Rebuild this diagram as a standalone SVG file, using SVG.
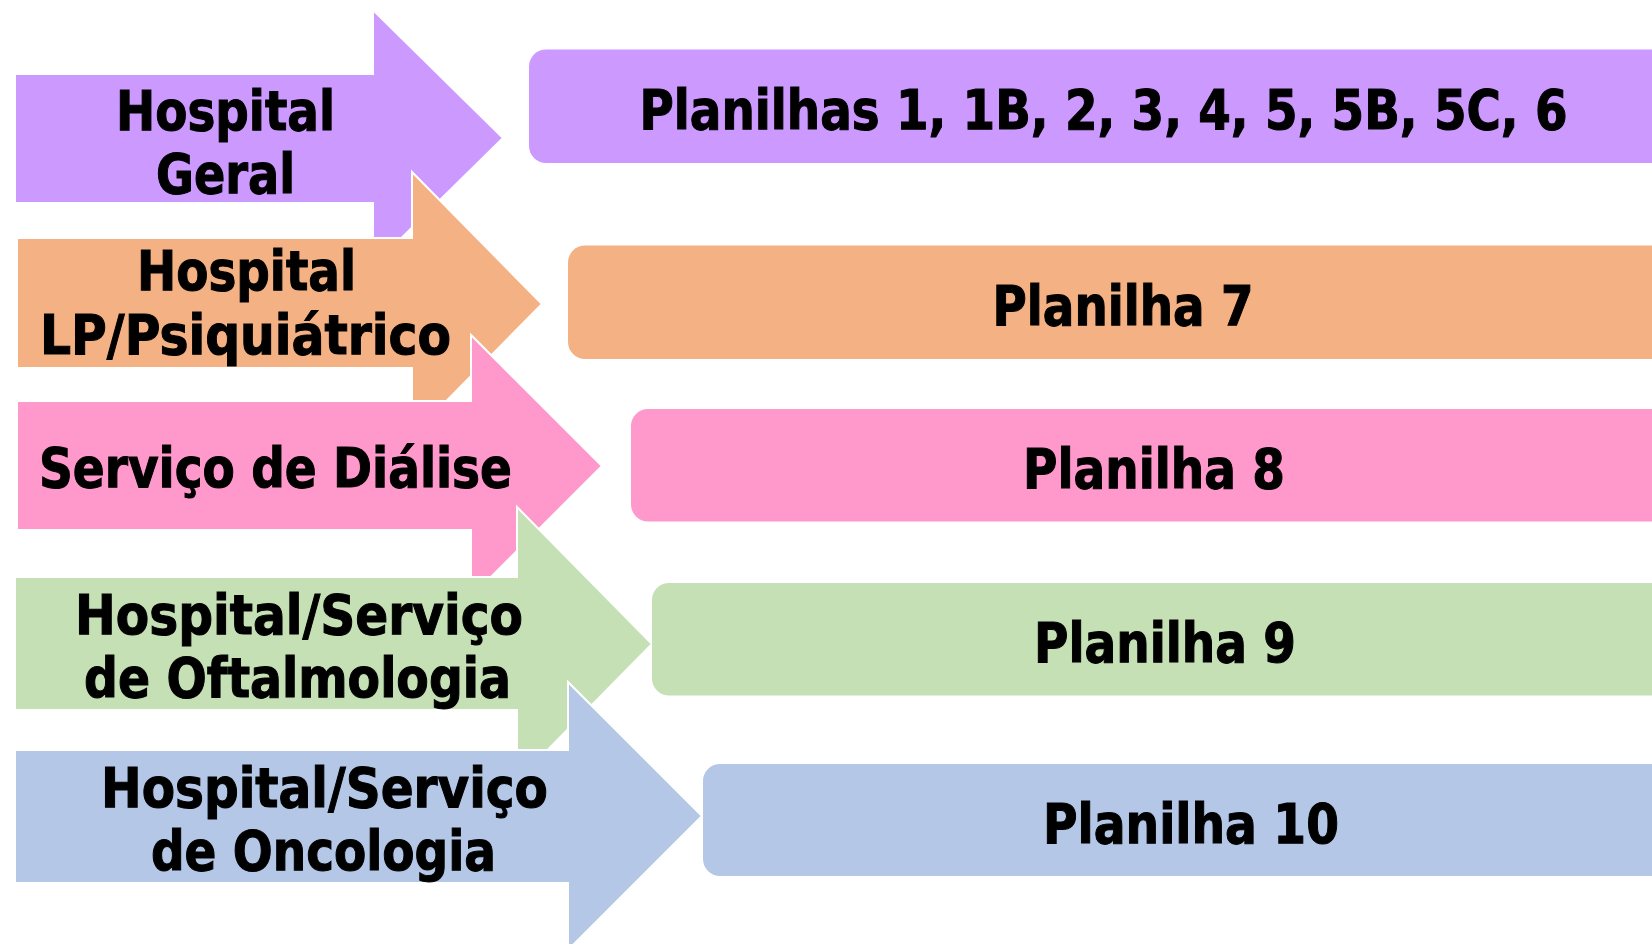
<svg xmlns="http://www.w3.org/2000/svg" width="1652" height="944" viewBox="0 0 1652 944">
<style>
.t{font-family:"DejaVu Sans Condensed","DejaVu Sans","Liberation Sans",sans-serif;font-weight:bold;font-size:55px;fill:#000;stroke:#000;stroke-width:1;text-anchor:middle}
.arr{stroke:#fff;stroke-width:2;stroke-linejoin:miter}
</style>
<rect width="1652" height="944" fill="#fff"/>
<g id="node-purple">
<polygon class="arr" fill="#CC99FF" points="15,74 373,74 373,10 503,138 373,266 373,203 15,203"/>
<text class="t" x="225.5" y="129.5" textLength="219" lengthAdjust="spacingAndGlyphs">Hospital</text>
<text class="t" x="225.5" y="192.5" textLength="139" lengthAdjust="spacingAndGlyphs">Geral</text>
</g>
<g id="box-purple">
<rect x="529" y="49.5" width="1150" height="113.5" rx="17" fill="#CC99FF"/>
<text class="t" x="1103.5" y="128.5" textLength="928" lengthAdjust="spacingAndGlyphs">Planilhas 1, 1B, 2, 3, 4, 5, 5B, 5C, 6</text>
</g>
<g id="node-orange">
<polygon class="arr" fill="#F4B183" points="17,238 412,238 412,172 542,304 412,436 412,368 17,368"/>
<text class="t" x="246.5" y="290" textLength="219" lengthAdjust="spacingAndGlyphs">Hospital</text>
<text class="t" x="245.5" y="354" textLength="411" lengthAdjust="spacingAndGlyphs">LP/Psiquiátrico</text>
</g>
<g id="box-orange">
<rect x="568" y="245.5" width="1110" height="113.5" rx="17" fill="#F4B183"/>
<text class="t" x="1123" y="324.5" textLength="261" lengthAdjust="spacingAndGlyphs">Planilha 7</text>
</g>
<g id="node-pink">
<polygon class="arr" fill="#FF99CC" points="17,401 471,401 471,335 602,466 471,597 471,530 17,530"/>
<text class="t" x="275.5" y="487" textLength="473" lengthAdjust="spacingAndGlyphs">Serviço de Diálise</text>
</g>
<g id="box-pink">
<rect x="631" y="409" width="1050" height="112.5" rx="17" fill="#FF99CC"/>
<text class="t" x="1154" y="488" textLength="262" lengthAdjust="spacingAndGlyphs">Planilha 8</text>
</g>
<g id="node-green">
<polygon class="arr" fill="#C5E0B4" points="15,577 517,577 517,507 652,644 517,781 517,710 15,710"/>
<text class="t" x="299" y="634" textLength="448" lengthAdjust="spacingAndGlyphs">Hospital/Serviço</text>
<text class="t" x="297.5" y="697" textLength="427" lengthAdjust="spacingAndGlyphs">de Oftalmologia</text>
</g>
<g id="box-green">
<rect x="652" y="583" width="1030" height="112.5" rx="17" fill="#C5E0B4"/>
<text class="t" x="1165" y="662" textLength="262" lengthAdjust="spacingAndGlyphs">Planilha 9</text>
</g>
<g id="node-blue">
<polygon class="arr" fill="#B4C7E7" points="15,750 568,750 568,682 702,816 568,950 568,883 15,883"/>
<text class="t" x="324.5" y="807" textLength="447" lengthAdjust="spacingAndGlyphs">Hospital/Serviço</text>
<text class="t" x="323.5" y="870" textLength="345" lengthAdjust="spacingAndGlyphs">de Oncologia</text>
</g>
<g id="box-blue">
<rect x="703" y="764" width="980" height="112" rx="17" fill="#B4C7E7"/>
<text class="t" x="1191" y="843" textLength="296" lengthAdjust="spacingAndGlyphs">Planilha 10</text>
</g>
<g id="connectors"></g>
</svg>
